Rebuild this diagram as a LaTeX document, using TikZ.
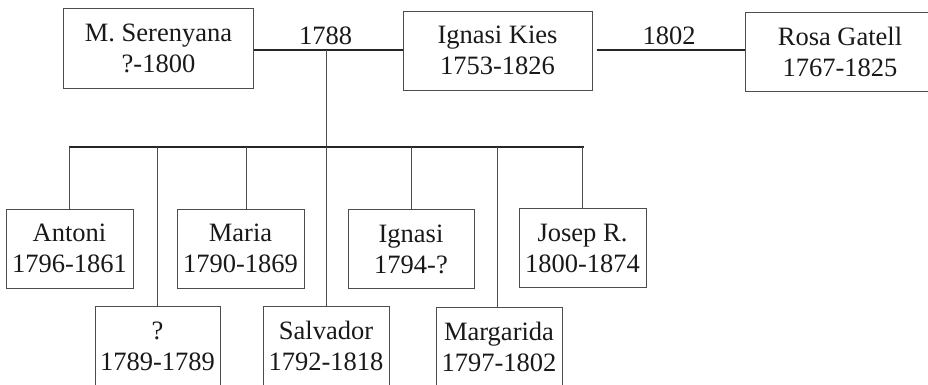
\documentclass[tikz,border=0pt]{standalone}
\usepackage{fontspec}
\setmainfont{Liberation Serif}
\begin{document}
\begin{tikzpicture}[x=1pt,y=-1pt,
  person/.style={draw=black!70, line width=1pt, fill=white, text=black!90,
    align=center, inner sep=0pt, minimum height=79pt,
    font=\fontsize{26.5}{31}\selectfont},
  wide/.style={person, minimum width=190pt},
  narrow/.style={person, minimum width=126pt},
  marriage/.style={line width=2.2pt, black!85},
  bar/.style={line width=2.2pt, black!85},
  drop/.style={line width=1pt, black!70},
  year/.style={anchor=base, text=black!90, inner sep=0pt,
    font=\fontsize{26.5}{31}\selectfont}]
\useasboundingbox (0,0) rectangle (928,384);
\fill[white] (0,0) rectangle (928,384);
\clip (0,0) rectangle (928,384);

% parents
\node[wide, minimum height=80pt] (ms) at (158.5,48) {M. Serenyana\\?-1800};
\node[wide, minimum width=189pt] (ik) at (497.5,50.5) {Ignasi Kies\\1753-1826};
\node[wide] (rg) at (840,51.5) {Rosa Gatell\\1767-1825};

% marriages
\draw[marriage] (ms.east |- 0,50) -- (ik.west |- 0,50);
\draw[marriage, shorten <=4pt] (ik.east |- 0,50) -- (rg.west |- 0,50);
\node[year] (y1788) at (325.5,44) {1788};
\node[year] (y1802) at (669,44) {1802};

% children, upper row
\node[narrow, minimum width=127pt] (ant) at (69.5,248.5) {Antoni\\1796-1861};
\node[narrow, minimum width=127pt] (mar) at (240.5,248.5) {Maria\\1790-1869};
\node[narrow] (ign) at (411,249) {Ignasi\\1794-?};
\node[narrow, minimum width=127pt] (jos) at (582.5,248) {Josep R.\\1800-1874};

% children, lower row
\node[narrow, minimum width=125pt, minimum height=80pt] (unk) at (157.5,346) {?\\1789-1789};
\node[narrow, minimum height=80pt] (sal) at (326,346) {Salvador\\1792-1818};
\node[narrow, minimum height=80pt] (mgd) at (499,347) {Margarida\\1797-1802};

% descent
\coordinate (m1) at (326,50);
\coordinate (b0) at (69,147);
\coordinate (b1) at (583,147);
\coordinate (bm) at (326,147);
\draw[drop] (m1) -- (bm);
\draw[bar] ([xshift=-0.5pt]b0) -- ([xshift=0.5pt]b1);

\draw[drop] (ant.north |- bm) -- (ant.north);
\draw[drop] (unk.north |- bm) -- (unk.north);
\coordinate (mtop) at (246,147);
\draw[drop] (mtop) -- (mtop |- mar.north);
\draw[drop] (sal.north |- bm) -- (sal.north);
\draw[drop] (ign.north |- bm) -- (ign.north);
\coordinate (gtop) at (497,147);
\draw[drop] (gtop) -- (gtop |- mgd.north);
\draw[drop] (jos.north |- bm) -- (jos.north);
\end{tikzpicture}
\end{document}
